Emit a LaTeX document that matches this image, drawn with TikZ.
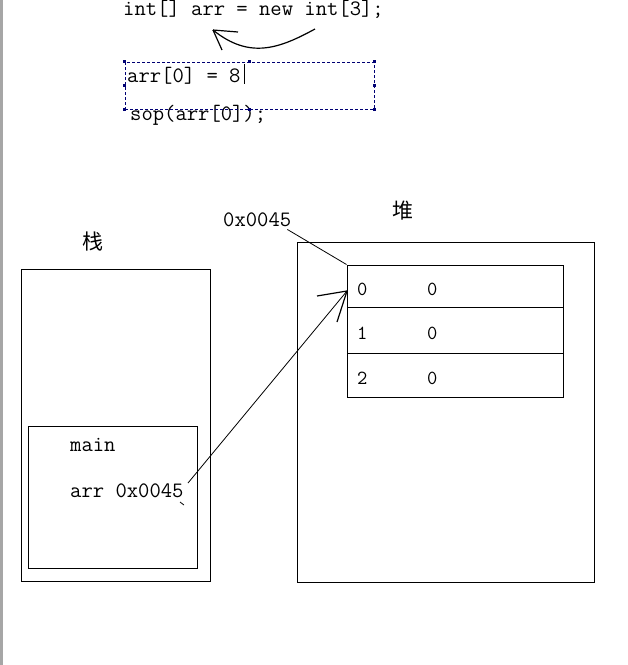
\documentclass[tikz,border=0pt]{standalone}
\usepackage{fontspec}
\newfontfamily\cjk{Noto Sans CJK SC}
\begin{document}
\begin{tikzpicture}[x=1pt,y=-1pt,
  code/.style={font=\ttfamily\fontsize{22}{26}\selectfont, inner sep=0, anchor=base west},
  cell/.style={font=\ttfamily\fontsize{20}{24}\selectfont, inner sep=0, anchor=base west},
  han/.style={font=\cjk\fontsize{21}{24}\selectfont, inner sep=0},
  frame/.style={draw, line width=1pt, inner sep=0, minimum width=#1},
  thin/.style={line width=0.8pt},
  handle/.style={fill=blue!45!black, minimum size=3pt, inner sep=0}]
\useasboundingbox (0,0) rectangle (628,665);
\fill[white] (0,0) rectangle (628,665);
\fill[gray!70] (0,0) rectangle (3,665);

% code at top
\node[code] (decl) at (123,15) {int[] arr = new int[3];};
\node[code] (assign) at (127,82) {arr[0] = 8};
\node[code] (sop) at (130,120) {sop(arr[0]);};
\draw[line width=0.8pt] (244,64) -- (244,84);

% selection box
\node[draw=blue!45!black, dash pattern=on 3pt off 2pt, line width=1pt, inner sep=0,
      minimum width=249pt, minimum height=47pt] (sel) at (249.5,85.5) {};
\foreach \a in {north west,north,north east,east,south east,south,south west,west}
  \node[handle] at (sel.\a) {};

% curved arrow
\coordinate (ctail) at (315,29);
\coordinate (ctip) at (213,30);
\draw[line width=1.2pt] (ctail) .. controls (280,48) and (250,60) .. (ctip);
\draw[line width=1.2pt] (ctip) -- (238,32);
\draw[line width=1.2pt] (ctip) -- (222,50);

% stack
\node[han] (zhan) at (93,242) {栈};
\node[frame=189pt, minimum height=312pt] (stack) at (115.5,425) {};
\node[frame=169pt, minimum height=142pt] (mainf) at (112.5,497) {};
\node[code] (mainlbl) at (70,451) {main};
\node[code] (arrlbl) at (70,497) {arr 0x0045};
\draw[thin] (180,502) -- (184,505);

% heap
\node[han] (dui) at (403,211) {堆};
\node[frame=297pt, minimum height=340pt] (heap) at (445.5,412) {};
\node[frame=216pt, minimum height=42pt] (r0) at (455,286) {};
\node[frame=216pt, minimum height=46pt] (r1) at (455,330) {};
\node[frame=216pt, minimum height=44pt] (r2) at (455,375) {};
\node[cell] (i0) at (357,295) {0};
\node[cell] (v0) at (427,295) {0};
\node[cell] (i1) at (357,339) {1};
\node[cell] (v1) at (427,339) {0};
\node[cell] (i2) at (357,384) {2};
\node[cell] (v2) at (427,384) {0};

\node[code] (addr) at (223,226) {0x0045};
\draw[thin] ([xshift=-4pt,yshift=-3pt]addr.south east) -- (r0.north west);

% reference arrow
\coordinate (atail) at (188,483);
\coordinate (atip) at (347,291);
\draw[thin] (atail) -- (atip);
\draw[line width=1.2pt] (atip) -- (317,296);
\draw[line width=1.2pt] (atip) -- (337,322);
\end{tikzpicture}
\end{document}
